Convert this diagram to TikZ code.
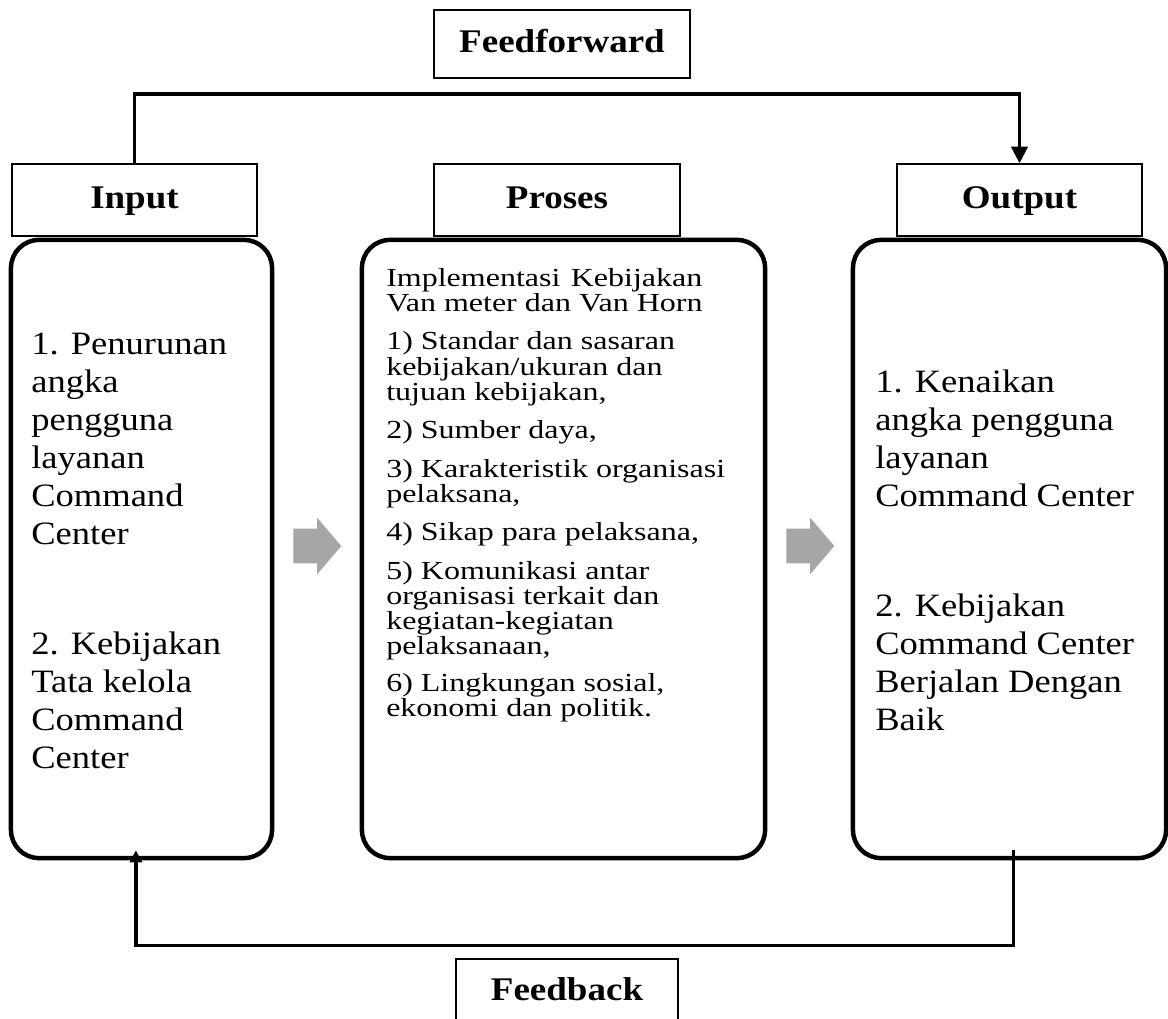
\documentclass[tikz,border=0pt]{standalone}
\usepackage{fontspec}
\setmainfont{Liberation Serif}[FakeStretch=1.12]
\newfontfamily\listfont{Liberation Serif}[FakeStretch=1.23]
\usepackage{tikz}
\usetikzlibrary{arrows.meta,positioning,calc,shapes.arrows}
\definecolor{Ink}{HTML}{000000}
\definecolor{Shade}{HTML}{A6A6A6}
\tikzset{
 panel/.style={draw=Ink, line width=3.2pt, rounded corners=0.7cm, inner sep=0pt, minimum height=15.45cm},
 tag/.style={draw=Ink, line width=0.8pt, inner sep=0pt, minimum height=1.8cm, text height=16pt, text depth=4.5pt, font=\fontsize{23.5}{26}\selectfont\bfseries},
 bodytext/.style={anchor=base west, inner sep=0pt, font=\fontsize{23.2}{27}\selectfont},
 listtext/.style={anchor=base west, inner sep=0pt, font=\listfont\fontsize{18.5}{20}\selectfont},
 flowarrow/.style={shape=single arrow, fill=Shade, draw=none, inner xsep=0pt, inner ysep=0.425cm, minimum height=1.2cm, single arrow head extend=0.275cm, single arrow tip angle=99, anchor=tail},
 feedline/.style={draw=Ink, line width=2.8pt, -{Triangle[length=0.42cm,width=0.4cm]}},
 backline/.style={draw=Ink, line width=2.4pt, -{Triangle[length=0.3cm,width=0.3cm]}}
}
\begin{document}
\begin{tikzpicture}[x=0.025cm,y=-0.025cm]
\useasboundingbox (0,0) rectangle (1168,1018);
\node[panel,minimum width=6.525cm] (inbox) at (141.5,549) {};
\node[panel,minimum width=10.075cm] (procbox) at (563.5,549) {};
\node[panel,minimum width=7.825cm] (outbox) at (1009.5,549) {};
\node[tag,minimum width=6.125cm] (inlab) at (134.5,200) {Input};
\node[tag,minimum width=6.15cm] (proclab) at (557,200) {Proses};
\node[tag,minimum width=6.125cm] (outlab) at (1019.5,200) {Output};
\node[tag,minimum width=6.4cm,minimum height=1.7cm] (fflab) at (562,44) {Feedforward};
\node[tag,minimum width=5.55cm,minimum height=1.65cm] (fblab) at (567,992) {Feedback};
\foreach \y/\t [count=\i] in {354/1. Penurunan,392/angka,430/pengguna,468/layanan,506/Command,544/Center,654/2. Kebijakan,692/Tata kelola,730/Command,768/Center}
  \node[bodytext] (inl\i) at (31,\y) {\t};
\foreach \y/\t [count=\i] in {286/{\makebox[7.9cm][s]{Implementasi Kebijakan}},311/Van meter dan Van Horn,349/1) Standar dan sasaran,375/{kebijakan/ukuran dan},400/{tujuan kebijakan,},438/{2) Sumber daya,},477/3) Karakteristik organisasi,502/{pelaksana,},540/{4) Sikap para pelaksana,},579/5) Komunikasi antar,604/organisasi terkait dan,629/kegiatan-kegiatan,654/{pelaksanaan,},691/{6) Lingkungan sosial,},716/ekonomi dan politik.}
  \node[listtext] (prl\i) at (386,\y) {\t};
\foreach \y/\t [count=\i] in {392/1. Kenaikan,430/angka pengguna,468/layanan,506/Command Center,616/2. Kebijakan,654/Command Center,692/Berjalan Dengan,730/Baik}
  \node[bodytext] (outl\i) at (875,\y) {\t};
\node[flowarrow] (step1) at (293,546) {};
\node[flowarrow] (step2) at (786,546) {};
\draw[feedline] (inlab.north) -- ++(0,-69) -| (outlab.north);
\draw[backline] ([xshift=0.1cm,yshift=0.25cm]outbox.south) -- ++(0,95) -| ([xshift=-0.14cm,yshift=0.25cm]inbox.south);
\end{tikzpicture}
\end{document}
